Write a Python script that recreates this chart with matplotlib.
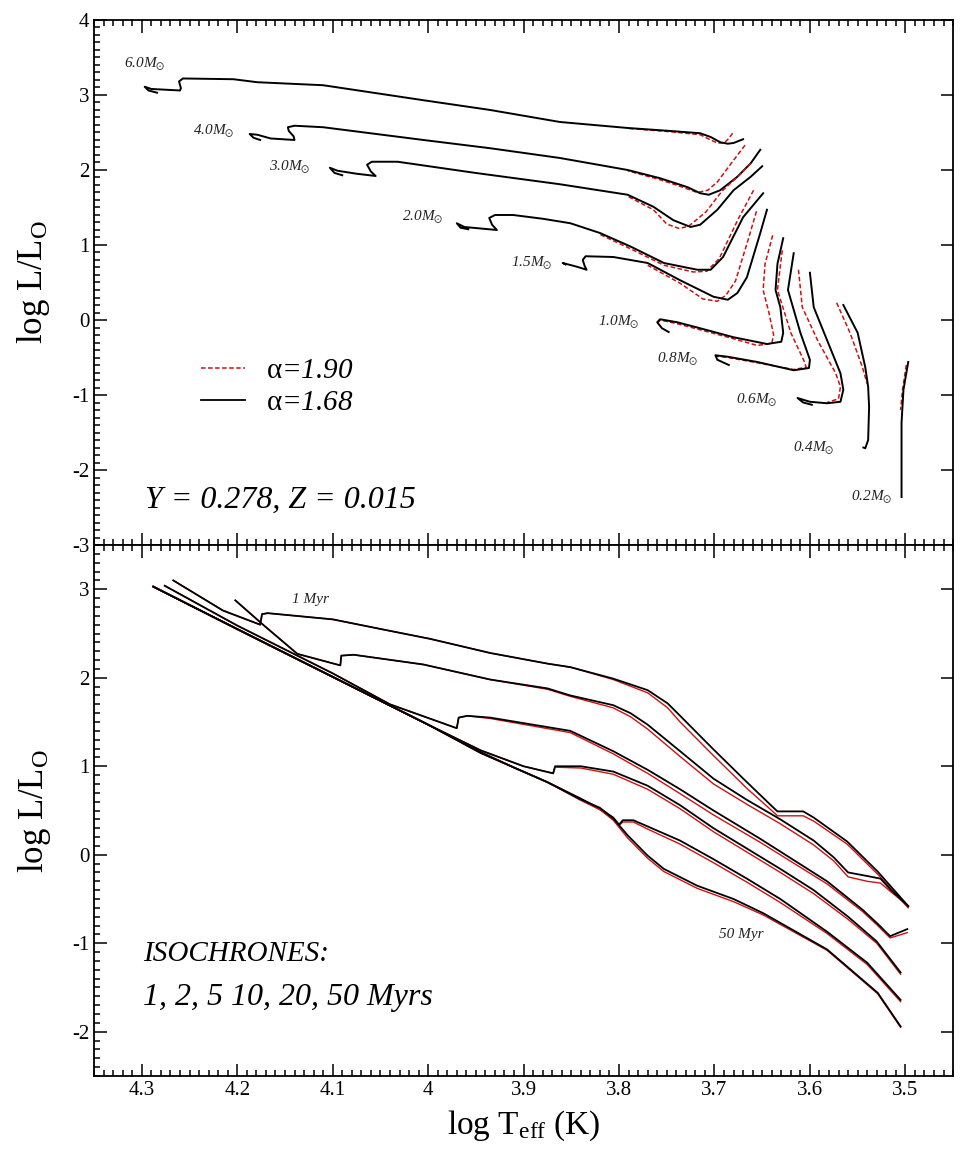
import matplotlib
matplotlib.use('Agg')
import matplotlib.pyplot as plt
from matplotlib.ticker import MultipleLocator, FuncFormatter
from matplotlib.lines import Line2D

plt.rcParams['font.family'] = ['Liberation Serif', 'DejaVu Serif']
plt.rcParams['mathtext.fontset'] = 'custom'
plt.rcParams['mathtext.rm'] = 'Liberation Serif'
plt.rcParams['mathtext.it'] = 'Liberation Serif:italic'
plt.rcParams['mathtext.fallback'] = 'stix'

# ---- PMS tracks: black = alpha 1.68, red = alpha 1.90 (Hayashi top -> ZAMS) ----
m60_t = [3.670, 3.680, 3.686, 3.694, 3.704, 3.715, 3.746, 3.791, 3.862, 3.935, 4.005, 4.110,
         4.179, 4.204, 4.257, 4.261, 4.259, 4.260, 4.275, 4.290, 4.297, 4.293, 4.284]
m60_l = [2.41, 2.36, 2.35, 2.37, 2.44, 2.49, 2.52, 2.56, 2.64, 2.80, 2.93, 3.13,
         3.17, 3.21, 3.22, 3.18, 3.09, 3.06, 3.07, 3.08, 3.11, 3.06, 3.03]
m60r_t = [3.681, 3.685, 3.690, 3.697, 3.704, 3.715, 3.746, 3.791]
m60r_l = [2.49, 2.42, 2.36, 2.36, 2.40, 2.47, 2.51, 2.555]

m40_t = [3.652, 3.662, 3.676, 3.694, 3.706, 3.715, 3.728, 3.757, 3.791, 3.862, 3.935, 4.005,
         4.110, 4.140, 4.147, 4.146, 4.141, 4.140, 4.165, 4.179, 4.187, 4.183, 4.176]
m40_l = [2.27, 2.09, 1.91, 1.73, 1.67, 1.69, 1.77, 1.89, 2.00, 2.16, 2.29, 2.40,
         2.57, 2.59, 2.57, 2.52, 2.45, 2.40, 2.42, 2.47, 2.48, 2.43, 2.40]
m40r_t = [3.668, 3.680, 3.697, 3.707, 3.718, 3.740, 3.757, 3.791]
m40r_l = [2.33, 2.13, 1.84, 1.73, 1.70, 1.80, 1.87, 1.99]

m30_t = [3.650, 3.662, 3.680, 3.697, 3.715, 3.725, 3.743, 3.764, 3.791, 3.862, 3.950, 4.032,
         4.059, 4.064, 4.060, 4.055, 4.075, 4.095, 4.103, 4.098, 4.090]
m30_l = [2.05, 1.91, 1.73, 1.47, 1.27, 1.24, 1.33, 1.51, 1.67, 1.81, 1.96, 2.11,
         2.11, 2.07, 1.98, 1.92, 1.95, 1.99, 2.03, 1.96, 1.93]
m30r_t = [3.662, 3.674, 3.692, 3.709, 3.727, 3.737, 3.750, 3.764, 3.791]
m30r_l = [2.09, 1.93, 1.72, 1.44, 1.25, 1.22, 1.28, 1.47, 1.65]

m20_t = [3.649, 3.670, 3.691, 3.704, 3.718, 3.753, 3.788, 3.820, 3.851, 3.880, 3.911, 3.930,
         3.936, 3.933, 3.928, 3.945, 3.962, 3.970, 3.966, 3.958]
m20_l = [1.69, 1.37, 0.84, 0.67, 0.67, 0.76, 0.98, 1.16, 1.29, 1.35, 1.40, 1.40,
         1.36, 1.27, 1.20, 1.22, 1.24, 1.29, 1.23, 1.21]
m20r_t = [3.659, 3.675, 3.695, 3.708, 3.722, 3.753, 3.788, 3.820]
m20r_l = [1.73, 1.35, 0.82, 0.65, 0.64, 0.73, 0.95, 1.14]

m15_t = [3.645, 3.652, 3.666, 3.676, 3.686, 3.701, 3.736, 3.770, 3.806, 3.835, 3.838, 3.836,
         3.834, 3.844, 3.859, 3.856]
m15_l = [1.47, 1.16, 0.57, 0.36, 0.27, 0.31, 0.53, 0.76, 0.84, 0.85, 0.80, 0.72,
         0.67, 0.71, 0.76, 0.74]
m15r_t = [3.656, 3.664, 3.678, 3.688, 3.697, 3.712, 3.736, 3.770]
m15r_l = [1.45, 1.10, 0.52, 0.33, 0.25, 0.28, 0.49, 0.73]

m10_t = [3.628, 3.634, 3.636, 3.631, 3.628, 3.630, 3.645, 3.680, 3.715, 3.739, 3.757, 3.760,
         3.755, 3.748]
m10_l = [1.09, 0.75, 0.40, 0.17, -0.17, -0.29, -0.32, -0.23, -0.11, -0.03, 0.01, -0.03,
         -0.11, -0.16]
m10r_t = [3.639, 3.647, 3.649, 3.643, 3.638, 3.640, 3.655, 3.680, 3.715, 3.739, 3.757, 3.760]
m10r_l = [1.13, 0.75, 0.40, 0.10, -0.20, -0.31, -0.34, -0.25, -0.13, -0.05, 0.00, -0.05]

m08_t = [3.617, 3.623, 3.610, 3.600, 3.601, 3.617, 3.655, 3.686, 3.699, 3.697, 3.685]
m08_l = [0.89, 0.40, -0.17, -0.53, -0.64, -0.67, -0.56, -0.49, -0.47, -0.53, -0.60]
m08r_t = [3.629, 3.634, 3.620, 3.606, 3.604, 3.617, 3.655, 3.686, 3.699]
m08r_l = [0.93, 0.40, -0.17, -0.55, -0.63, -0.66, -0.57, -0.50, -0.48]

m06_t = [3.600, 3.596, 3.582, 3.568, 3.565, 3.568, 3.582, 3.600, 3.613, 3.607, 3.598]
m06_l = [0.63, 0.17, -0.27, -0.71, -0.93, -1.09, -1.11, -1.09, -1.04, -1.10, -1.13]
m06r_t = [3.612, 3.608, 3.592, 3.573, 3.568, 3.570, 3.582]
m06r_l = [0.67, 0.17, -0.27, -0.71, -0.89, -1.05, -1.10]

m04_t = [3.565, 3.550, 3.542, 3.539, 3.538, 3.539, 3.542, 3.544]
m04_l = [0.20, -0.17, -0.63, -0.89, -1.16, -1.60, -1.71, -1.70]
m04r_t = [3.572, 3.558, 3.545, 3.540]
m04r_l = [0.23, -0.17, -0.63, -0.85]

m02_t = [3.497, 3.502, 3.504, 3.504, 3.504]
m02_l = [-0.56, -0.93, -1.37, -2.04, -2.36]
m02r_t = [3.499, 3.503, 3.505]
m02r_l = [-0.60, -0.93, -1.20]

mass_names = ['6.0', '4.0', '3.0', '2.0', '1.5', '1.0', '0.8', '0.6', '0.4', '0.2']
mass_lab_t = [4.297, 4.225, 4.145, 4.006, 3.891, 3.800, 3.738, 3.656, 3.596, 3.535]
mass_lab_l = [3.41, 2.51, 2.04, 1.37, 0.75, -0.03, -0.53, -1.07, -1.71, -2.37]

# ---- isochrones 1, 2, 5, 10, 20, 50 Myr (black = 1.68, red = 1.90 on same Teff grid) ----
i01_t = [4.267, 4.215, 4.176, 4.174, 4.168, 4.100, 4.040, 3.998, 3.935, 3.875, 3.851, 3.806,
         3.770, 3.749, 3.736, 3.701, 3.666, 3.638, 3.634, 3.607, 3.596, 3.561, 3.529, 3.497]
i01_l = [3.10, 2.76, 2.60, 2.72, 2.73, 2.66, 2.53, 2.44, 2.28, 2.16, 2.12, 1.99,
         1.86, 1.71, 1.57, 1.19, 0.82, 0.53, 0.49, 0.49, 0.42, 0.15, -0.19, -0.58]
i01_r = [3.10, 2.76, 2.60, 2.72, 2.73, 2.66, 2.53, 2.44, 2.28, 2.16, 2.12, 1.98,
         1.83, 1.66, 1.50, 1.12, 0.75, 0.48, 0.44, 0.44, 0.38, 0.12, -0.22, -0.60]

i02_t = [4.202, 4.173, 4.137, 4.092, 4.091, 4.078, 4.005, 3.935, 3.875, 3.851, 3.806, 3.788,
         3.770, 3.736, 3.701, 3.666, 3.631, 3.596, 3.575, 3.560, 3.540, 3.526, 3.515, 3.497]
i02_l = [2.875, 2.60, 2.27, 2.14, 2.25, 2.26, 2.15, 1.98, 1.88, 1.80, 1.69, 1.60,
         1.47, 1.17, 0.86, 0.62, 0.40, 0.16, -0.03, -0.20, -0.24, -0.27, -0.40, -0.58]
i02_r = [2.875, 2.60, 2.27, 2.14, 2.25, 2.26, 2.15, 1.98, 1.87, 1.79, 1.66, 1.56,
         1.42, 1.11, 0.80, 0.57, 0.35, 0.11, -0.07, -0.25, -0.30, -0.32, -0.42, -0.58]

i05_t = [4.276, 4.200, 4.100, 4.040, 3.970, 3.968, 3.959, 3.935, 3.851, 3.806, 3.770, 3.736,
         3.701, 3.652, 3.582, 3.545, 3.529, 3.516, 3.498]
i05_l = [3.04, 2.59, 2.05, 1.70, 1.43, 1.55, 1.57, 1.55, 1.40, 1.17, 0.96, 0.74,
         0.50, 0.18, -0.30, -0.62, -0.78, -0.92, -0.84]
i05_r = [3.04, 2.59, 2.05, 1.70, 1.43, 1.55, 1.57, 1.54, 1.38, 1.14, 0.92, 0.69,
         0.45, 0.14, -0.33, -0.64, -0.80, -0.94, -0.88]

i10_t = [4.288, 4.200, 4.100, 4.000, 3.945, 3.900, 3.869, 3.867, 3.840, 3.806, 3.770, 3.736,
         3.701, 3.666, 3.631, 3.596, 3.560, 3.530, 3.505]
i10_l = [3.03, 2.55, 2.01, 1.47, 1.18, 1.00, 0.92, 1.00, 1.00, 0.94, 0.78, 0.56,
         0.30, 0.07, -0.16, -0.40, -0.70, -0.98, -1.33]
i10_r = [3.03, 2.55, 2.01, 1.47, 1.18, 1.00, 0.92, 0.99, 0.98, 0.91, 0.74, 0.52,
         0.26, 0.03, -0.20, -0.44, -0.73, -1.00, -1.35]

i20_t = [4.288, 4.200, 4.100, 4.000, 3.945, 3.911, 3.875, 3.841, 3.820, 3.806, 3.800, 3.796,
         3.785, 3.770, 3.736, 3.701, 3.666, 3.631, 3.582, 3.540, 3.505]
i20_l = [3.03, 2.55, 2.01, 1.47, 1.16, 0.99, 0.82, 0.64, 0.52, 0.42, 0.34, 0.39,
         0.39, 0.32, 0.16, -0.05, -0.27, -0.50, -0.87, -1.22, -1.64]
i20_r = [3.03, 2.55, 2.01, 1.47, 1.16, 0.99, 0.82, 0.63, 0.51, 0.41, 0.33, 0.37,
         0.37, 0.29, 0.12, -0.09, -0.31, -0.54, -0.89, -1.24, -1.66]

i50_t = [4.288, 4.200, 4.100, 4.000, 3.945, 3.911, 3.875, 3.841, 3.820, 3.806, 3.791, 3.770,
         3.753, 3.718, 3.680, 3.649, 3.582, 3.529, 3.505]
i50_l = [3.03, 2.55, 2.01, 1.47, 1.15, 0.99, 0.82, 0.63, 0.53, 0.41, 0.22, -0.01,
         -0.16, -0.35, -0.50, -0.66, -1.07, -1.56, -1.94]
i50_r = [3.03, 2.55, 2.01, 1.47, 1.15, 0.99, 0.82, 0.62, 0.51, 0.39, 0.19, -0.04,
         -0.19, -0.38, -0.53, -0.68, -1.08, -1.57, -1.95]

tracks = [(m60_t, m60_l, m60r_t, m60r_l), (m40_t, m40_l, m40r_t, m40r_l),
          (m30_t, m30_l, m30r_t, m30r_l), (m20_t, m20_l, m20r_t, m20r_l),
          (m15_t, m15_l, m15r_t, m15r_l), (m10_t, m10_l, m10r_t, m10r_l),
          (m08_t, m08_l, m08r_t, m08r_l), (m06_t, m06_l, m06r_t, m06r_l),
          (m04_t, m04_l, m04r_t, m04r_l), (m02_t, m02_l, m02r_t, m02r_l)]
isochrones = [(i01_t, i01_l, i01_r), (i02_t, i02_l, i02_r), (i05_t, i05_l, i05_r),
              (i10_t, i10_l, i10_r), (i20_t, i20_l, i20_r), (i50_t, i50_l, i50_r)]

fig = plt.figure(figsize=(9.6, 11.54), dpi=100)
ax1 = fig.add_axes([0.098, 0.5277, 0.8948, 0.4550])
ax2 = fig.add_axes([0.098, 0.0676, 0.8948, 0.4601])

red_style = dict(color='#d01010', lw=1.1, ls=(0, (3, 1.6)))
for bt, bl, rt, rl in tracks:
    ax1.plot(rt, rl, **red_style)
    ax1.plot(bt, bl, color='black', lw=1.4)

# mass labels: italic text with a solar symbol subscript
for name, t, l in zip(mass_names, mass_lab_t, mass_lab_l):
    ax1.text(t, l, name + 'M$_{\\odot}$', fontsize=11, style='italic',
             ha='center', va='center', color='#222222')

for t, lb, lr in isochrones:
    ax2.plot(t, lr, color='#d01010', lw=1.0)
    ax2.plot(t, lb, color='black', lw=1.3)

handles = [Line2D([], [], **red_style), Line2D([], [], color='black', lw=1.3)]
ax1.legend(handles, ['$\\mathrm{α}$=1.90', '$\\mathrm{α}$=1.68'], loc='upper left',
           bbox_to_anchor=(0.108, 0.385), frameon=False,
           prop={'size': 21, 'style': 'italic'},
           handlelength=1.5, handletextpad=0.7, labelspacing=0.2, borderpad=0)

ax1.text(4.297, -2.4, 'Y = 0.278, Z = 0.015', fontsize=23, style='italic',
         ha='left', va='center')
ax2.text(4.299, -1.12, 'ISOCHRONES:', fontsize=21, style='italic', ha='left', va='center')
ax2.text(4.299, -1.61, '1, 2, 5 10, 20, 50 Myrs', fontsize=23, style='italic',
         ha='left', va='center')
ax2.text(4.123, 2.89, '1 Myr', fontsize=11, style='italic', ha='center', va='center',
         color='#222222')
ax2.text(3.672, -0.90, '50 Myr', fontsize=11, style='italic', ha='center', va='center',
         color='#222222')

fmt = FuncFormatter(lambda v, p: '%g' % round(v, 2))
for ax, ylo, yhi in [(ax1, -3, 4), (ax2, -2.5, 3.5)]:
    ax.set_xlim(4.35, 3.45)
    ax.set_ylim(ylo, yhi)
    ax.xaxis.set_major_locator(MultipleLocator(0.1))
    ax.xaxis.set_minor_locator(MultipleLocator(0.01))
    ax.yaxis.set_major_locator(MultipleLocator(1))
    ax.yaxis.set_minor_locator(MultipleLocator(0.1))
    ax.xaxis.set_major_formatter(fmt)
    ax.yaxis.set_major_formatter(fmt)
    ax.tick_params(which='both', direction='in', top=True, right=True, width=1.1)
    ax.tick_params(which='major', length=9, labelsize=15)
    ax.tick_params(which='minor', length=4.5)
    ax.tick_params(axis='y', which='minor', right=False)
    for s in ax.spines.values():
        s.set_linewidth(1.3)
    ax.set_ylabel(r'log L/L$_{\mathrm{O}}$', fontsize=25, labelpad=14)

ax1.tick_params(axis='x', labelbottom=False)
ax2.set_xlabel(r'log T$_{\mathrm{eff}}$ (K)', fontsize=24, labelpad=6)

fig.savefig('out.png', dpi=100, facecolor='white')
